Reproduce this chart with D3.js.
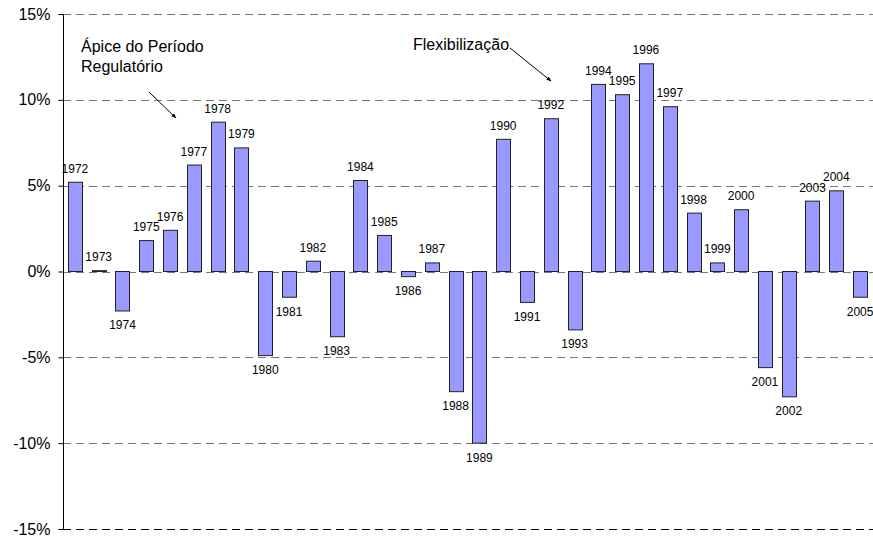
<!DOCTYPE html>
<html>
<head>
<meta charset="utf-8">
<script src="https://cdn.jsdelivr.net/npm/d3@7"></script>
<style>
  html, body { margin: 0; padding: 0; background: #fff; }
  svg { display: block; font-family: "Liberation Sans", Arial, sans-serif; }
</style>
</head>
<body>
<svg id="chart" width="873" height="537"></svg>
<script>
const years = [1972,1973,1974,1975,1976,1977,1978,1979,1980,1981,1982,1983,1984,1985,1986,1987,1988,1989,1990,1991,1992,1993,1994,1995,1996,1997,1998,1999,2000,2001,2002,2003,2004,2005];
const values = [5.2,0.05,-2.3,1.8,2.4,6.2,8.7,7.2,-4.9,-1.5,0.6,-3.8,5.3,2.1,-0.3,0.5,-7.0,-10.0,7.7,-1.8,8.9,-3.4,10.9,10.3,12.1,9.6,3.4,0.5,3.6,-5.6,-7.3,4.1,4.7,-1.5];
const yTicks = [-15,-10,-5,0,5,10,15];
const annotations = [
  { lines: ["Ápice do Período", "Regulatório"], x: 81, y: 52, from: [149, 92], to: [176, 118] },
  { lines: ["Flexibilização"], x: 413, y: 50, from: [510, 48], to: [551, 81] }
];

const svg = d3.select("#chart");
const x = d3.scaleBand().domain(years).range([63, 872]).paddingInner(0.41).paddingOuter(0.205);
const y = d3.scaleLinear().domain([-15, 15]).range([529, 14]);

// gridlines
svg.append("g").selectAll("line").data(yTicks).join("line")
  .attr("x1", 63).attr("x2", 873)
  .attr("y1", d => Math.round(y(d)) + 0.5).attr("y2", d => Math.round(y(d)) + 0.5)
  .attr("stroke", d => d === -15 ? "#000" : "#777")
  .attr("stroke-width", 1)
  .attr("stroke-dasharray", "8,5");

// y axis
const yAxis = d3.axisLeft(y).tickValues(yTicks).tickSize(5).tickPadding(8).tickFormat(d => d + "%");
const ag = svg.append("g").attr("transform", "translate(63.5,0)").call(yAxis);
ag.select(".domain").attr("stroke", "#000").attr("d", `M0,${y(15)}V${y(-15)}`);
ag.selectAll(".tick line").attr("stroke", "#000");
ag.selectAll(".tick text").attr("font-size", 16).attr("fill", "#000")
  .attr("font-family", '"Liberation Sans", Arial, sans-serif');

// bars
svg.append("g").selectAll("rect").data(years).join("rect")
  .attr("x", d => Math.round(x(d)) + 0.5)
  .attr("width", Math.round(x.bandwidth()))
  .attr("y", (d, i) => Math.min(y(values[i]), y(0)))
  .attr("height", (d, i) => Math.abs(y(values[i]) - y(0)))
  .attr("fill", "#9999FF")
  .attr("stroke", "#222")
  .attr("stroke-width", 1);

// labels
svg.append("g").selectAll("text").data(years).join("text")
  .attr("x", d => x(d) + x.bandwidth() / 2)
  .attr("y", (d, i) => values[i] >= 0 ? y(values[i]) - 9.5 : y(values[i]) + 18.5)
  .attr("text-anchor", "middle")
  .attr("font-size", 12)
  .attr("fill", "#000")
  .text(d => d);

// annotations
svg.append("defs").append("marker")
  .attr("id", "arr").attr("viewBox", "0 0 10 10").attr("refX", 9).attr("refY", 5)
  .attr("markerWidth", 5).attr("markerHeight", 5).attr("orient", "auto")
  .append("path").attr("d", "M0,1L10,5L0,9z").attr("fill", "#000");

annotations.forEach(a => {
  const t = svg.append("text").attr("x", a.x).attr("y", a.y).attr("font-size", 16).attr("fill", "#000");
  a.lines.forEach((l, i) => t.append("tspan").attr("x", a.x).attr("dy", i === 0 ? 0 : 20).text(l));
  svg.append("line").attr("x1", a.from[0]).attr("y1", a.from[1]).attr("x2", a.to[0]).attr("y2", a.to[1])
    .attr("stroke", "#000").attr("stroke-width", 1).attr("marker-end", "url(#arr)");
});
</script>
</body>
</html>
